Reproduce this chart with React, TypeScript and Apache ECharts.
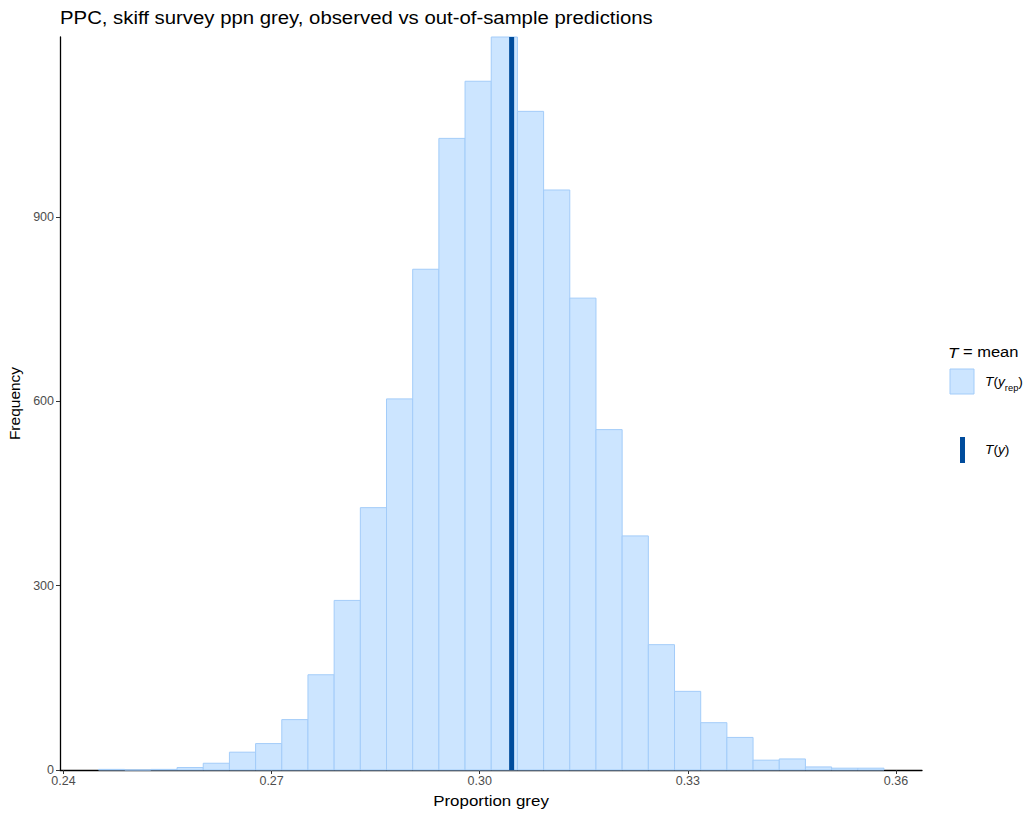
import React, { useEffect, useRef } from "react";
import * as echarts from "echarts";

// Histogram of replicated mean proportion grey (30 bins)
const binStart = 0.24505;
const binWidth = 0.003774;
const binCounts = [
  1, 0, 1, 4, 11, 29, 43, 82, 155, 276, 427, 604, 815, 1028, 1121, 1193, 1072,
  944, 768, 554, 381, 204, 128, 77, 53, 16, 18, 5, 3, 3,
];
// Observed statistic T(y)
const observedMean = 0.3046;

const xTicks = [0.24, 0.27, 0.3, 0.33, 0.36];
const yTicks = [0, 300, 600, 900];

const FILL = "#cce5ff";
const EDGE = "#a3ccf9";
const DARK = "#004c9c";
const FONT = "'Liberation Sans', Arial, sans-serif";
const SX = 1.1;

export default function App() {
  const ref = useRef<HTMLDivElement>(null);

  useEffect(() => {
    if (!ref.current) return;
    const chart = echarts.init(ref.current, undefined, { renderer: "svg" });
    const bars = binCounts.map((c, i) => [
      binStart + i * binWidth,
      binStart + (i + 1) * binWidth,
      c,
    ]);
    const ymax = Math.max(...binCounts);

    chart.setOption({
      animation: false,
      textStyle: { fontFamily: FONT },
      grid: { left: 60, right: 109, top: 37, bottom: 45, outerBoundsMode: "none" },
      xAxis: {
        type: "value",
        min: 0.2395,
        max: 0.36375,
        axisLine: { lineStyle: { color: "#000", width: 1.3 } },
        axisTick: { length: 4, lineStyle: { color: "#333" }, customValues: xTicks },
        axisLabel: {
          customValues: xTicks,
          fontSize: 12.5,
          color: "#4d4d4d",
          margin: 4,
          formatter: (v: number) => v.toFixed(2),
        },
        splitLine: { show: false },
      },
      yAxis: {
        type: "value",
        min: 0,
        max: ymax,
        name: "Frequency",
        nameLocation: "middle",
        nameGap: 36,
        nameRotate: 90,
        nameTextStyle: { fontSize: 15.5, color: "#000" },
        axisLine: { show: true, lineStyle: { color: "#000", width: 1.3 } },
        axisTick: { show: true, length: 4, lineStyle: { color: "#333" }, customValues: yTicks },
        axisLabel: { customValues: yTicks, fontSize: 12.5, color: "#4d4d4d", margin: 6 },
        splitLine: { show: false },
      },
      series: [
        {
          type: "custom",
          data: bars,
          encode: { x: [0, 1], y: 2 },
          renderItem: (params: any, api: any) => {
            const p0 = api.coord([api.value(0), api.value(2)]);
            const p1 = api.coord([api.value(1), 0]);
            return {
              type: "rect",
              shape: { x: p0[0], y: p0[1], width: p1[0] - p0[0], height: p1[1] - p0[1] },
              style: { fill: FILL, stroke: EDGE, lineWidth: 1 },
            };
          },
          z: 2,
        },
        {
          type: "line",
          data: [
            [observedMean, 0],
            [observedMean, ymax],
          ],
          symbol: "none",
          lineStyle: { color: DARK, width: 5 },
          silent: true,
          z: 3,
        },
      ],
      graphic: [
        {
          type: "text",
          x: 60,
          y: 8,
          scaleX: SX,
          style: {
            text: "PPC, skiff survey ppn grey, observed vs out-of-sample predictions",
            font: `18.5px ${FONT}`,
            fill: "#000",
          },
        },
        {
          type: "text",
          x: 491,
          y: 793,
          scaleX: SX,
          style: {
            text: "Proportion grey",
            font: `15.4px ${FONT}`,
            fill: "#000",
            align: "center",
          },
        },
        {
          type: "text",
          x: 948,
          y: 344,
          scaleX: SX,
          style: {
            text: "{i|T} = mean",
            font: `15px ${FONT}`,
            fill: "#000",
            rich: { i: { fontStyle: "italic", fontSize: 15.5, fontFamily: FONT } },
          },
        },
        {
          type: "rect",
          shape: { x: 950, y: 369, width: 24, height: 25 },
          style: { fill: FILL, stroke: EDGE, lineWidth: 1 },
        },
        {
          type: "text",
          x: 985,
          y: 382,
          scaleX: SX,
          style: {
            text: "{i|T}({i|y}{s|rep})",
            font: `12.5px ${FONT}`,
            fill: "#000",
            verticalAlign: "middle",
            rich: {
              i: { fontStyle: "italic", fontSize: 12.5, fontFamily: FONT },
              s: { fontSize: 8.5, fontFamily: FONT, verticalAlign: "bottom", padding: [0, 0, -4, 0] },
            },
          },
        },
        {
          type: "rect",
          shape: { x: 960, y: 437, width: 5, height: 26 },
          style: { fill: DARK },
        },
        {
          type: "text",
          x: 985,
          y: 450,
          scaleX: SX,
          style: {
            text: "{i|T}({i|y})",
            font: `12.5px ${FONT}`,
            fill: "#000",
            verticalAlign: "middle",
            rich: { i: { fontStyle: "italic", fontSize: 12.5, fontFamily: FONT } },
          },
        },
      ],
    });
    return () => chart.dispose();
  }, []);

  return (
    <div
      ref={ref}
      style={{ position: "fixed", left: 0, top: 0, width: 1031, height: 815, background: "#fff" }}
    />
  );
}
